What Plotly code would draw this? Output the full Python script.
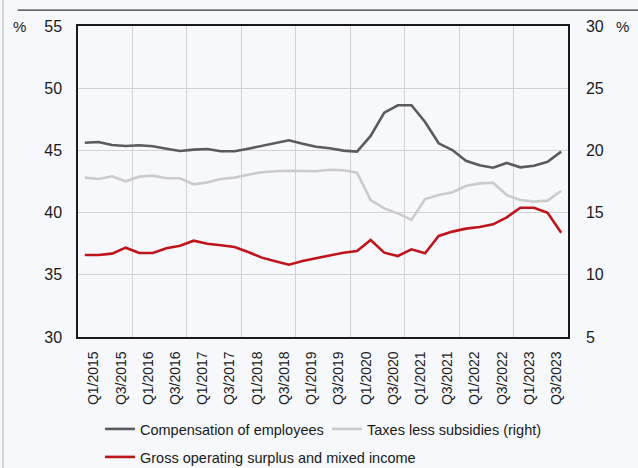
import plotly.graph_objects as go

quarters = [f"Q{q}/{y}" for y in range(2015, 2024) for q in (1, 2, 3, 4)]

compensation = [45.62, 45.67, 45.43, 45.35, 45.41, 45.33, 45.14, 44.95, 45.06, 45.11,
                44.93, 44.93, 45.14, 45.38, 45.57, 45.81, 45.54, 45.30, 45.17, 44.98,
                44.90, 46.16, 48.03, 48.63, 48.63, 47.28, 45.57, 45.03, 44.17, 43.80,
                43.61, 43.99, 43.64, 43.77, 44.09, 44.90]

gross_surplus = [36.59, 36.59, 36.70, 37.18, 36.75, 36.75, 37.13, 37.34, 37.74, 37.50,
                 37.37, 37.23, 36.83, 36.38, 36.08, 35.81, 36.11, 36.33, 36.54, 36.78,
                 36.91, 37.80, 36.78, 36.51, 37.05, 36.73, 38.12, 38.47, 38.71, 38.84,
                 39.06, 39.62, 40.39, 40.39, 39.99, 38.38]

taxes_right = [17.81, 17.70, 17.92, 17.52, 17.89, 17.97, 17.76, 17.76, 17.27, 17.43,
               17.70, 17.81, 18.05, 18.24, 18.32, 18.37, 18.34, 18.32, 18.45, 18.40,
               18.21, 16.01, 15.34, 14.94, 14.41, 16.09, 16.41, 16.63, 17.14, 17.35,
               17.40, 16.41, 16.01, 15.88, 15.96, 16.76]

idx = list(range(len(quarters)))
label_idx = idx[::2]
label_text = [quarters[i] for i in label_idx]
grid_idx = [i - 0.5 for i in range(4, len(quarters), 4)]

FONT = "Liberation Sans, Arial, sans-serif"
BG = "#f6f8fc"
GRID = "#d2d2d2"
TXT = "#1a1a1a"

fig = go.Figure()
fig.add_trace(go.Scatter(x=idx, y=compensation, name="Compensation of employees",
                         mode="lines", line=dict(color="#5b5b5b", width=2.6),
                         legend="legend"))
fig.add_trace(go.Scatter(x=idx, y=taxes_right, name="Taxes less subsidies (right)",
                         mode="lines", line=dict(color="#cbcbcb", width=2.6), yaxis="y2",
                         legend="legend"))
fig.add_trace(go.Scatter(x=idx, y=gross_surplus, name="Gross operating surplus and mixed income",
                         mode="lines", line=dict(color="#c0141c", width=2.6),
                         legend="legend2"))

legend_common = dict(orientation="h", xref="container", yref="container",
                     xanchor="left", yanchor="top", bgcolor="rgba(0,0,0,0)",
                     font=dict(family=FONT, size=14.5, color=TXT))

fig.update_layout(
    width=638, height=468,
    margin=dict(l=78, r=70, t=26, b=131, autoexpand=False),
    paper_bgcolor=BG, plot_bgcolor=BG,
    font=dict(family=FONT, size=15, color=TXT),
    showlegend=True,
    legend=dict(legend_common, x=100 / 638, y=1 - 413 / 468, entrywidth=182),
    legend2=dict(legend_common, x=100 / 638, y=1 - 441 / 468),
    xaxis=dict(range=[-0.5, len(quarters) - 0.5], tickmode="array",
               tickvals=label_idx, ticktext=label_text, tickangle=-90,
               showgrid=False, zeroline=False, ticks="", automargin=False,
               ticklabelshift=9, ticklabelstandoff=7,
               tickfont=dict(family=FONT, size=14, color=TXT),
               showline=True, linecolor=TXT, linewidth=1.5, mirror=True,
               minor=dict(tickmode="array", tickvals=grid_idx, showgrid=True,
                          gridcolor=GRID, gridwidth=1.3, ticks="")),
    yaxis=dict(range=[30, 55], dtick=5, tick0=30, showgrid=True, gridcolor=GRID,
               gridwidth=1.3, zeroline=False, ticks="", ticklabelstandoff=11,
               automargin=False,
               tickfont=dict(family=FONT, size=16, color=TXT),
               showline=True, linecolor=TXT, linewidth=1.5, mirror=True),
    yaxis2=dict(range=[5, 30], dtick=5, tick0=5, overlaying="y", side="right",
                showgrid=False, zeroline=False, ticks="", ticklabelstandoff=13,
                automargin=False,
                tickfont=dict(family=FONT, size=16, color=TXT),
                showline=True, linecolor=TXT, linewidth=1.5),
)

fig.add_annotation(text="%", xref="paper", yref="paper", x=-0.12, y=1.0,
                   xanchor="center", yanchor="middle", showarrow=False,
                   font=dict(family=FONT, size=15, color=TXT))
fig.add_annotation(text="%", xref="paper", yref="paper", x=1.112, y=1.0,
                   xanchor="center", yanchor="middle", showarrow=False,
                   font=dict(family=FONT, size=15, color=TXT))

fig.add_shape(type="line", xref="paper", yref="paper", x0=-0.123, x1=1.151,
              y0=1.051, y1=1.051, line=dict(color="#333333", width=1.3))
fig.add_shape(type="line", xref="paper", yref="paper", x0=-0.153, x1=-0.153,
              y0=-0.43, y1=1.09, line=dict(color="#bdbdbd", width=1.2))

fig.write_html("out.html")
